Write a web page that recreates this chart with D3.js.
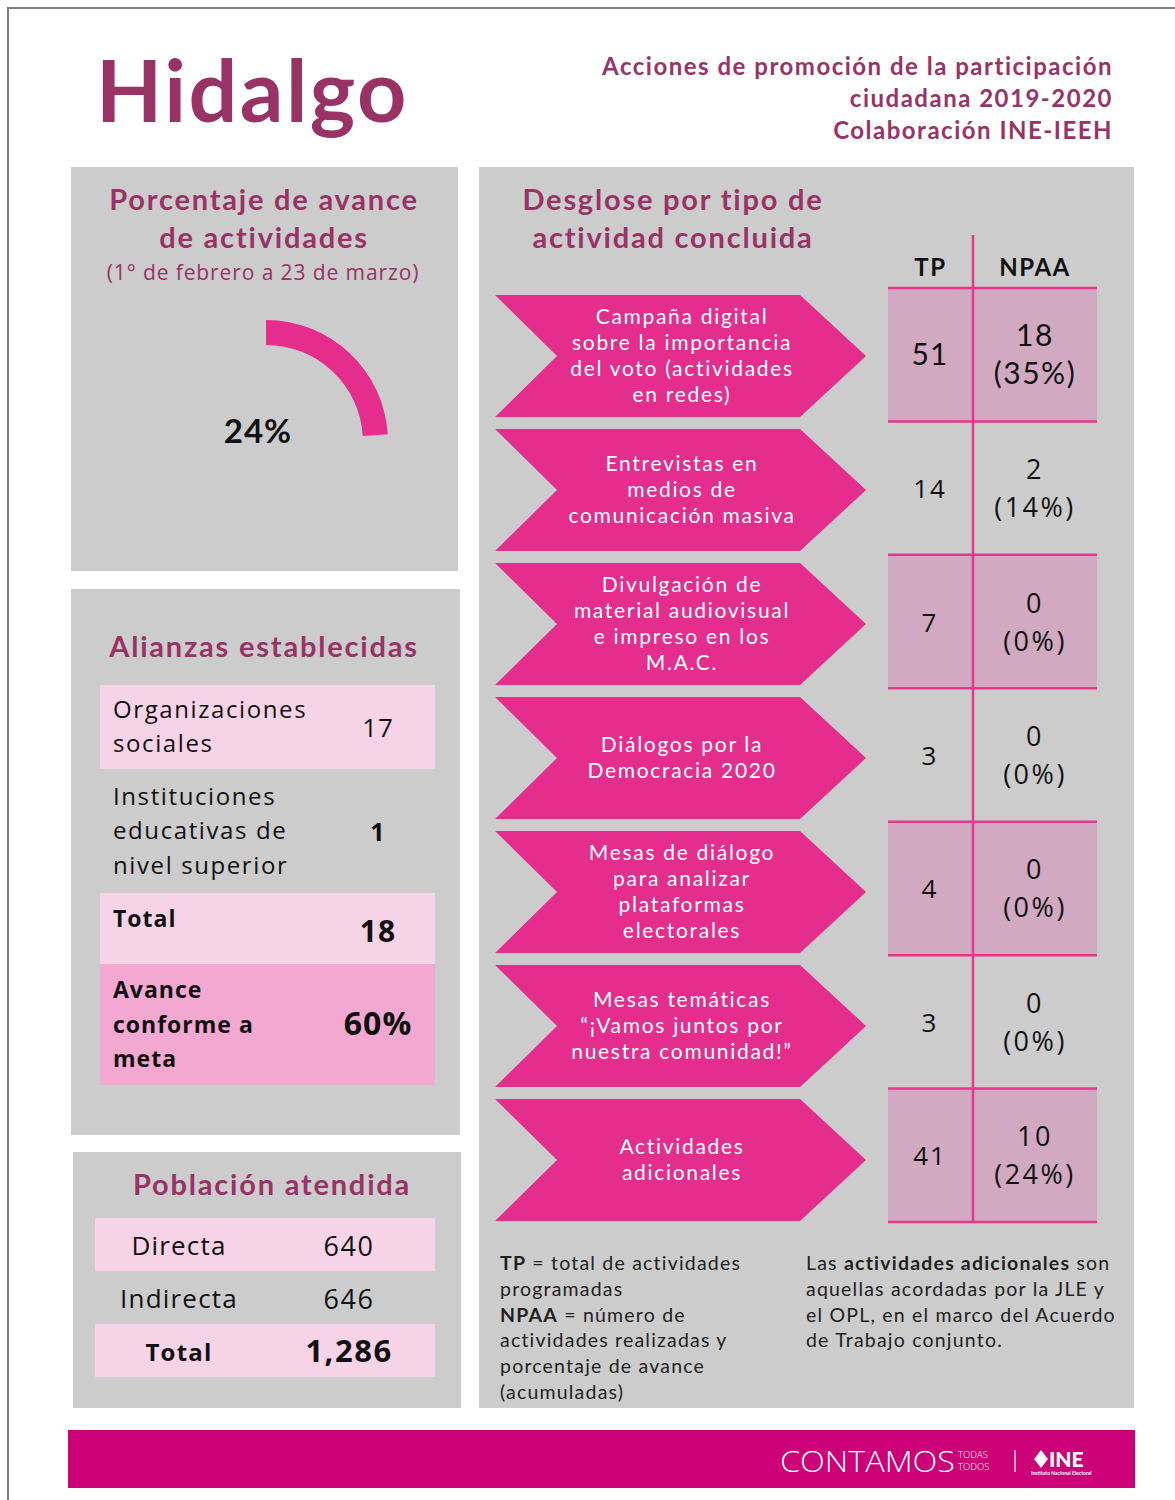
<!DOCTYPE html>
<html>
<head>
<meta charset="utf-8">
<script src="https://cdn.jsdelivr.net/npm/d3@7"></script>
<style>
  body { margin: 0; background: #fff; }
</style>
</head>
<body>
<div id="chart"></div>
<script>
(function () {
    'use strict';

    // ---- data ----
    var subtitleLines = ['Acciones de promoción de la participación', 'ciudadana 2019-2020', 'Colaboración INE-IEEH'];
    var gaugeValue = 24;
    var activityLabels = [
        ['Campaña digital', 'sobre la importancia', 'del voto (actividades', 'en redes)'],
        ['Entrevistas en', 'medios de', 'comunicación masiva'],
        ['Divulgación de', 'material audiovisual', 'e impreso en los', 'M.A.C.'],
        ['Diálogos por la', 'Democracia 2020'],
        ['Mesas de diálogo', 'para analizar', 'plataformas', 'electorales'],
        ['Mesas temáticas', '“¡Vamos juntos por', 'nuestra comunidad!”'],
        ['Actividades', 'adicionales']
    ];
    var tpValues = [51, 14, 7, 3, 4, 3, 41];
    var npaaValues = [18, 2, 0, 0, 0, 0, 10];
    var npaaPercent = [35, 14, 0, 0, 0, 0, 24];
    var allianceLabels = [['Organizaciones', 'sociales'], ['Instituciones', 'educativas de', 'nivel superior']];
    var allianceValues = [17, 1];
    var allianceTotal = 18;
    var allianceProgress = 60;
    var populationLabels = ['Directa', 'Indirecta'];
    var populationValues = [640, 646];

    var PLUM = '#993366', PINK = '#e52d8d', GRAY = '#cccccc', LIGHT = '#f7d3e7',
        MID = '#f2a8d0', SHADE = '#d1a9c1', LINE = '#e8368f', BAR = '#cc0077';
    var CAL = 'Lato, "Open Sans", sans-serif';
    var GOT = '"Open Sans", "DejaVu Sans", sans-serif';

    var W = 1175, H = 1500;
    var svg = d3.select('#chart').append('svg')
        .attr('width', W).attr('height', H)
        .attr('viewBox', '0 0 ' + W + ' ' + H);

    // page frame
    svg.append('rect').attr('x', 8).attr('y', 8).attr('width', W + 10).attr('height', H + 10)
        .attr('fill', 'none').attr('stroke', '#7f7f7f').attr('stroke-width', 2);

    // header
    svg.append('text').attr('x', 96).attr('y', 122)
        .attr('font-family', CAL).attr('font-weight', 700).attr('font-size', 86)
        .attr('letter-spacing', 2.5).attr('fill', PLUM).text('Hidalgo');
    svg.append('g').selectAll('text').data(subtitleLines).enter().append('text')
        .attr('x', 1113).attr('y', function (d, i) { return 75 + i * 32; })
        .attr('text-anchor', 'end').attr('font-family', CAL).attr('font-weight', 700)
        .attr('font-size', 24).attr('letter-spacing', 1.5).attr('fill', PLUM)
        .text(function (d) { return d; });

    // panels
    var panels = [[71, 167, 387, 404], [479, 167, 655, 1241], [71, 589, 389, 546], [73, 1152, 388, 256]];
    svg.append('g').selectAll('rect').data(panels).enter().append('rect')
        .attr('x', function (d) { return d[0]; }).attr('y', function (d) { return d[1]; })
        .attr('width', function (d) { return d[2]; }).attr('height', function (d) { return d[3]; })
        .attr('fill', GRAY);

    var title = function (lines, cx, y0, dy) {
        svg.append('g').selectAll('text').data(lines).enter().append('text')
            .attr('x', cx).attr('y', function (d, i) { return y0 + i * dy; })
            .attr('text-anchor', 'middle').attr('font-family', CAL).attr('font-weight', 700)
            .attr('font-size', 29).attr('letter-spacing', 1.8).attr('fill', PLUM)
            .text(function (d) { return d; });
    };

    // ---- gauge panel ----
    title(['Porcentaje de avance', 'de actividades'], 264, 210, 38);
    svg.append('text').attr('x', 263).attr('y', 280).attr('text-anchor', 'middle')
        .attr('font-family', GOT).attr('font-size', 21).attr('letter-spacing', 0.9).attr('fill', PLUM)
        .text('(1° de febrero a 23 de marzo)');
    var angle = d3.scaleLinear().domain([0, 100]).range([0, 2 * Math.PI]);
    var arc = d3.arc().innerRadius(97).outerRadius(122).startAngle(0);
    svg.append('path').attr('transform', 'translate(266,442)')
        .attr('d', arc({ endAngle: angle(gaugeValue) })).attr('fill', PINK);
    svg.append('text').attr('x', 258).attr('y', 443).attr('text-anchor', 'middle')
        .attr('font-family', CAL).attr('font-weight', 700).attr('font-size', 33)
        .attr('letter-spacing', 1).attr('fill', '#111').text(gaugeValue + '%');

    // ---- breakdown panel ----
    title(['Desglose por tipo de', 'actividad concluida'], 673, 210, 38);
    var idx = d3.range(activityLabels.length);
    var yArrow = d3.scaleBand().domain(idx).range([295, 1221]).paddingInner(0.0896);
    var yRow = d3.scaleBand().domain(idx).range([288, 1222]);
    var xCol = d3.scaleOrdinal().domain(['TP', 'NPAA']).range([[888, 973], [973, 1097]]);

    var arrows = svg.append('g').selectAll('g').data(idx).enter().append('g')
        .attr('transform', function (i) { return 'translate(0,' + yArrow(i) + ')'; });
    var bh = yArrow.bandwidth();
    arrows.append('path')
        .attr('d', 'M495,0 L800,0 L866,' + bh / 2 + ' L800,' + bh + ' L495,' + bh + ' L557,' + bh / 2 + 'Z')
        .attr('fill', PINK);
    arrows.each(function (i) {
        var lines = activityLabels[i];
        d3.select(this).selectAll('text').data(lines).enter().append('text')
            .attr('x', 682).attr('y', function (d, k) { return bh / 2 + (k - (lines.length - 1) / 2) * 26 + 7; })
            .attr('text-anchor', 'middle').attr('font-family', CAL).attr('font-size', 21)
            .attr('letter-spacing', 1.7).attr('fill', '#fff').text(function (d) { return d; });
    });

    // table
    var tbl = svg.append('g');
    tbl.selectAll('rect').data(idx.filter(function (i) { return i % 2 === 0; })).enter().append('rect')
        .attr('x', xCol('TP')[0]).attr('y', function (i) { return yRow(i); })
        .attr('width', xCol('NPAA')[1] - xCol('TP')[0]).attr('height', yRow.bandwidth())
        .attr('fill', SHADE);
    tbl.selectAll('line.h').data(idx.concat([idx.length])).enter().append('line')
        .attr('class', 'h')
        .attr('x1', xCol('TP')[0]).attr('x2', xCol('NPAA')[1])
        .attr('y1', function (i) { return i < idx.length ? yRow(i) : yRow.range()[1]; })
        .attr('y2', function (i) { return i < idx.length ? yRow(i) : yRow.range()[1]; })
        .attr('stroke', LINE).attr('stroke-width', 2.5);
    tbl.append('line').attr('x1', 973).attr('x2', 973).attr('y1', 235).attr('y2', 1222)
        .attr('stroke', LINE).attr('stroke-width', 2.5);
    tbl.selectAll('text.hd').data(xCol.domain()).enter().append('text').attr('class', 'hd')
        .attr('x', function (d) { return (xCol(d)[0] + xCol(d)[1]) / 2 + (d === 'TP' ? 0 : 0); })
        .attr('y', 276).attr('text-anchor', 'middle').attr('font-family', CAL)
        .attr('font-weight', 700).attr('font-size', 24).attr('letter-spacing', 1.5)
        .attr('fill', '#111').text(function (d) { return d; });
    var mid = function (i) { return yRow(i) + yRow.bandwidth() / 2; };
    tbl.selectAll('text.tp').data(idx).enter().append('text').attr('class', 'tp')
        .attr('x', 930).attr('y', function (i) { return mid(i) + 10; })
        .attr('text-anchor', 'middle').attr('font-family', function (i) { return i === 0 ? CAL : GOT; })
        .attr('font-size', function (i) { return i === 0 ? 30 : 26; })
        .attr('letter-spacing', function (i) { return i === 0 ? 1 : 2; }).attr('fill', '#111')
        .text(function (i) { return tpValues[i]; });
    tbl.selectAll('text.np').data(idx).enter().append('text').attr('class', 'np')
        .attr('x', 1035).attr('text-anchor', 'middle')
        .attr('font-family', function (i) { return i === 0 ? CAL : GOT; })
        .attr('font-size', function (i) { return i === 0 ? 30 : 27; })
        .attr('letter-spacing', function (i) { return i === 0 ? 1.5 : 2.5; }).attr('fill', '#111')
        .each(function (i) {
            var t = d3.select(this);
            t.append('tspan').attr('x', 1035).attr('y', mid(i) - 9).text(npaaValues[i]);
            t.append('tspan').attr('x', 1035).attr('y', mid(i) + 29).text('(' + npaaPercent[i] + '%)');
        });

    // notes
    var noteLeft = [[['TP', 1], [' = total de actividades', 0]], [['programadas', 0]],
        [['NPAA', 1], [' = número de', 0]], [['actividades realizadas y', 0]],
        [['porcentaje de avance', 0]], [['(acumuladas)', 0]]];
    var noteRight = [[['Las ', 0], ['actividades adicionales', 1], [' son', 0]],
        [['aquellas acordadas por la JLE y', 0]], [['el OPL, en el marco del Acuerdo', 0]],
        [['de Trabajo conjunto.', 0]]];
    var notes = function (lines, x) {
        svg.append('g').selectAll('text').data(lines).enter().append('text')
            .attr('x', x).attr('y', function (d, i) { return 1270 + i * 25.8; })
            .attr('font-family', CAL).attr('font-size', 19.5).attr('letter-spacing', 1.2).attr('fill', '#222')
            .selectAll('tspan').data(function (d) { return d; }).enter().append('tspan')
            .attr('font-weight', function (d) { return d[1] ? 700 : 400; })
            .style('white-space', 'pre').text(function (d) { return d[0]; });
    };
    notes(noteLeft, 500);
    notes(noteRight, 806);

    // ---- alliances panel ----
    title(['Alianzas establecidas'], 264, 657, 0);
    var ally = svg.append('g');
    var allyRows = [
        { y: 685, h: 84, fill: LIGHT, lines: allianceLabels[0], val: allianceValues[0], bold: false, size: 26 },
        { y: 769, h: 124, fill: 'none', lines: allianceLabels[1], val: allianceValues[1], bold: true, size: 25 },
        { y: 893, h: 71, fill: LIGHT, lines: ['Total'], val: allianceTotal, bold: true, size: 30, top: true },
        { y: 964, h: 121, fill: MID, lines: ['Avance', 'conforme a', 'meta'], val: allianceProgress + '%', bold: true, size: 32 }
    ];
    allyRows.forEach(function (r, k) {
        ally.append('rect').attr('x', 100).attr('y', r.y).attr('width', 335).attr('height', r.h).attr('fill', r.fill);
        var y0 = r.top ? r.y + 34 : r.y + r.h / 2 - (r.lines.length - 1) / 2 * 34.5 + 8;
        ally.append('g').selectAll('text').data(r.lines).enter().append('text')
            .attr('x', 113).attr('y', function (d, i) { return y0 + i * 34.5; })
            .attr('font-family', GOT).attr('font-size', k > 1 ? 23 : 24)
            .attr('letter-spacing', k > 1 ? 1 : 1.6)
            .attr('font-weight', k > 1 ? 700 : 400).attr('fill', '#111').text(function (d) { return d; });
        ally.append('text').attr('x', 378).attr('y', r.y + r.h / 2 + (r.top ? 13 : 10))
            .attr('text-anchor', 'middle').attr('font-family', GOT).attr('font-size', r.size)
            .attr('letter-spacing', 1)
            .attr('font-weight', r.bold ? 700 : 400).attr('fill', '#111').text(r.val);
    });

    // ---- population panel ----
    title(['Población atendida'], 272, 1195, 0);
    var popRows = populationLabels.map(function (l, i) { return { label: l, val: d3.format(',')(populationValues[i]), bold: false }; })
        .concat([{ label: 'Total', val: d3.format(',')(d3.sum(populationValues)), bold: true }]);
    var yPop = d3.scaleBand().domain(d3.range(popRows.length)).range([1218, 1377]);
    var pop = svg.append('g').selectAll('g').data(popRows).enter().append('g')
        .attr('transform', function (d, i) { return 'translate(0,' + yPop(i) + ')'; });
    pop.append('rect').attr('x', 95).attr('width', 340).attr('height', yPop.bandwidth())
        .attr('fill', function (d, i) { return i % 2 === 0 ? LIGHT : 'none'; });
    pop.append('text').attr('x', 179).attr('y', yPop.bandwidth() / 2 + 10).attr('text-anchor', 'middle')
        .attr('font-family', GOT).attr('font-size', function (d) { return d.bold ? 24 : 26; })
        .attr('letter-spacing', 1.2)
        .attr('font-weight', function (d) { return d.bold ? 700 : 400; }).attr('fill', '#111')
        .text(function (d) { return d.label; });
    pop.append('text').attr('x', 349).attr('y', yPop.bandwidth() / 2 + 11).attr('text-anchor', 'middle')
        .attr('font-family', GOT).attr('font-size', function (d) { return d.bold ? 31 : 27; })
        .attr('letter-spacing', 1.5)
        .attr('font-weight', function (d) { return d.bold ? 700 : 400; }).attr('fill', '#111')
        .text(function (d) { return d.val; });

    // ---- footer ----
    var foot = svg.append('g');
    foot.append('rect').attr('x', 68).attr('y', 1430).attr('width', 1067).attr('height', 58).attr('fill', BAR);
    foot.append('text').attr('x', 780).attr('y', 1472).attr('font-family', GOT).attr('font-weight', 300)
        .attr('font-size', 29).attr('textLength', 175).attr('lengthAdjust', 'spacingAndGlyphs')
        .attr('fill', '#fff').text('CONTAMOS');
    foot.append('text').attr('x', 958).attr('y', 1458).attr('font-family', GOT).attr('font-weight', 300)
        .attr('font-size', 9.5).attr('fill', '#fff').text('TODAS');
    foot.append('text').attr('x', 958).attr('y', 1470).attr('font-family', GOT).attr('font-weight', 300)
        .attr('font-size', 9.5).attr('fill', '#fff').text('TODOS');
    foot.append('line').attr('x1', 1015).attr('x2', 1015).attr('y1', 1450).attr('y2', 1472)
        .attr('stroke', '#fff').attr('stroke-width', 1.2);
    foot.append('path').attr('d', 'M1041,1450 L1048,1459 L1041,1468 L1034,1459 Z').attr('fill', '#fff');
    foot.append('text').attr('x', 1049).attr('y', 1467).attr('font-family', CAL).attr('font-weight', 900)
        .attr('font-size', 21).attr('fill', '#fff').text('INE');
    foot.append('text').attr('x', 1031).attr('y', 1475).attr('font-family', CAL).attr('font-weight', 700)
        .attr('font-size', 5).attr('fill', '#fff').text('Instituto Nacional Electoral');
}());
</script>
</body>
</html>
